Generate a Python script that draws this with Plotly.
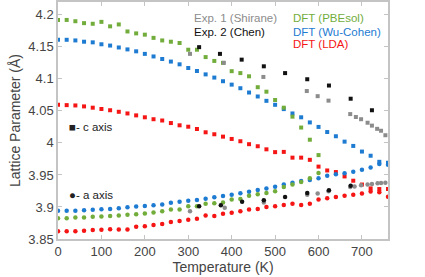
import plotly.graph_objects as go

# DFT temperatures
T_dft = list(range(0, 761, 20))
T_pbe = list(range(0, 601, 20))

# PBEsol (green)
pbe_c = [4.192, 4.192, 4.190, 4.187, 4.186, 4.189, 4.182, 4.185, 4.174, 4.171,
         4.169, 4.164, 4.160, 4.158, 4.156, 4.1455, 4.1455, 4.134, 4.128, 4.125,
         4.112, 4.109, 4.104, 4.087, 4.080, 4.067, 4.055, 4.041, 4.024, 4.005, 3.981]
pbe_a = [3.8825, 3.8825, 3.8835, 3.8835, 3.8846, 3.885, 3.886, 3.8866, 3.8877, 3.8887,
         3.890, 3.8913, 3.8933, 3.896, 3.896, 3.901, 3.901, 3.905, 3.906, 3.907,
         3.9115, 3.9125, 3.9177, 3.920, 3.922, 3.9246, 3.931, 3.935, 3.939, 3.945, 3.953]

# Wu-Cohen (blue)
wc_c = [4.161, 4.161, 4.160, 4.158, 4.157, 4.154, 4.152, 4.149, 4.146, 4.143,
        4.139, 4.135, 4.131, 4.127, 4.1227, 4.117, 4.1123, 4.107, 4.102, 4.0963,
        4.091, 4.0854, 4.0787, 4.0725, 4.0657, 4.0595, 4.0528, 4.046, 4.040, 4.032,
        4.025, 4.017, 4.0104, 4.002, 3.9953, 3.9865, 3.980, 3.9705, 3.969]
wc_a = [3.894, 3.894, 3.894, 3.8949, 3.8955, 3.8965, 3.897, 3.898, 3.8997, 3.9006,
        3.9017, 3.9026, 3.9037, 3.9066, 3.908, 3.9096, 3.911, 3.913, 3.915, 3.917,
        3.919, 3.9213, 3.9238, 3.9264, 3.929, 3.9316, 3.935, 3.938, 3.9405, 3.942,
        3.945, 3.9487, 3.9512, 3.9528, 3.955, 3.958, 3.9617, 3.967, 3.966]

# LDA (red)
lda_c = [4.0595, 4.059, 4.0585, 4.057, 4.055, 4.053, 4.051, 4.0486, 4.046, 4.043,
         4.040, 4.037, 4.035, 4.031, 4.0275, 4.0253, 4.0217, 4.0166, 4.0135, 4.0098,
         4.0062, 4.0026, 3.998, 3.9948, 3.990, 3.9856, 3.986, 3.977, 3.977, 3.9736,
         3.963, 3.957, 3.9545, 3.9477, 3.941, 3.935, 3.929, 3.928, 3.928]
lda_a = [3.862, 3.862, 3.862, 3.863, 3.864, 3.8644, 3.8654, 3.865, 3.865, 3.869,
         3.870, 3.872, 3.8733, 3.8765, 3.878, 3.880, 3.8815, 3.8866, 3.886, 3.8893,
         3.891, 3.8933, 3.896, 3.8967, 3.900, 3.901, 3.903, 3.905, 3.903, 3.905,
         3.9115, 3.9135, 3.9157, 3.9177, 3.919, 3.921, 3.924, 3.923, 3.916]

# Exp. 1 (Shirane, gray)
shi_T_c = [304, 382, 473, 573, 598, 623, 673, 686, 698, 713, 723, 735, 744, 754]
shi_c = [4.139, 4.125, 4.103, 4.081, 4.073, 4.066, 4.045, 4.0405, 4.037, 4.0315,
         4.027, 4.022, 4.019, 4.012]
shi_T_a = [304, 384, 474, 574, 598, 623, 673, 683, 698, 713, 723, 736, 744, 754]
shi_a = [3.8935, 3.8986, 3.907, 3.919, 3.921, 3.9244, 3.931, 3.932, 3.934, 3.935,
         3.936, 3.937, 3.9375, 3.938]

# Exp. 2 (Chen, black)
chen_T_c = [325, 373, 423, 474, 523, 574, 624, 674, 723]
chen_c = [4.1495, 4.139, 4.130, 4.1196, 4.109, 4.0994, 4.0896, 4.069, 4.051]
chen_T_a = [325, 375, 424, 474, 523, 574, 624, 674]
chen_a = [3.901, 3.9027, 3.908, 3.9104, 3.9157, 3.922, 3.926, 3.933]

x_ticks = [0, 100, 200, 300, 400, 500, 600, 700]
y_ticks = [3.85, 3.9, 3.95, 4.0, 4.05, 4.1, 4.15, 4.2]
y_tick_text = ["3.85", "3.9", "3.95", "4", "4.05", "4.1", "4.15", "4.2"]

GREEN = "#72ad3c"
BLUE = "#1e7bd2"
RED = "#f51515"
GRAY = "#8c8c8c"
BLACK = "#111111"

fig = go.Figure()

def add(x, y, color, symbol, size):
    fig.add_trace(go.Scatter(x=x, y=y, mode="markers",
                             marker=dict(color=color, symbol=symbol, size=size,
                                         line=dict(width=0)),
                             showlegend=False, hoverinfo="skip"))

SQ = 4
CI = 4.5
add(T_dft, lda_c, RED, "square", SQ)
add(T_dft, lda_a, RED, "circle", CI)
add(T_dft, wc_c, BLUE, "square", SQ)
add(T_dft, wc_a, BLUE, "circle", CI)
add(T_pbe, pbe_c, GREEN, "square", SQ)
add(T_pbe, pbe_a, GREEN, "circle", CI)
add(shi_T_c, shi_c, GRAY, "square", SQ)
add(shi_T_a, shi_a, GRAY, "circle", CI)
add(chen_T_c, chen_c, BLACK, "square", SQ)
add(chen_T_a, chen_a, BLACK, "circle", CI)

FONT = "Liberation Sans, Arial, sans-serif"
labels = [
    ("Exp. 1 (Shirane)", 313, 4.1945, GRAY),
    ("Exp. 2 (Chen)", 313, 4.1736, BLACK),
    ("DFT (PBEsol)", 541, 4.1945, GREEN),
    ("DFT (Wu-Cohen)", 541, 4.1736, BLUE),
    ("DFT (LDA)", 541, 4.1548, RED),
    ("\u25a0- c axis", 25, 4.025, "#222222"),
    ("\u25cf- a axis", 25, 3.918, "#222222"),
]
for txt, x, y, c in labels:
    fig.add_annotation(x=x, y=y, text=txt, showarrow=False, xanchor="left",
                       yanchor="middle", xshift=-2,
                       font=dict(family=FONT, size=11.5, color=c))

axis_common = dict(showline=True, linecolor="#c4c4c4", linewidth=1.5, mirror="ticks",
                   ticks="inside", ticklen=4, tickcolor="#c4c4c4", showgrid=False,
                   zeroline=False, automargin=False,
                   tickfont=dict(family=FONT, size=13, color="#444444"))

fig.update_xaxes(range=[0, 760], tickvals=x_ticks,
                 title=dict(text="Temperature (K)", standoff=2,
                            font=dict(family=FONT, size=14, color="#444444")),
                 **axis_common)
fig.update_yaxes(range=[3.85, 4.22], tickvals=y_ticks, ticktext=y_tick_text,
                 title=dict(text="Lattice Parameter (Å)", standoff=4,
                            font=dict(family=FONT, size=14, color="#444444")),
                 **axis_common)

fig.update_layout(width=425, height=277, margin=dict(l=58, r=37, t=2, b=38, autoexpand=False),
                  plot_bgcolor="white", paper_bgcolor="white")

fig.write_html("out.html", config={"displayModeBar": False},
               post_script="document.body.style.margin='0';document.body.style.padding='0';")
